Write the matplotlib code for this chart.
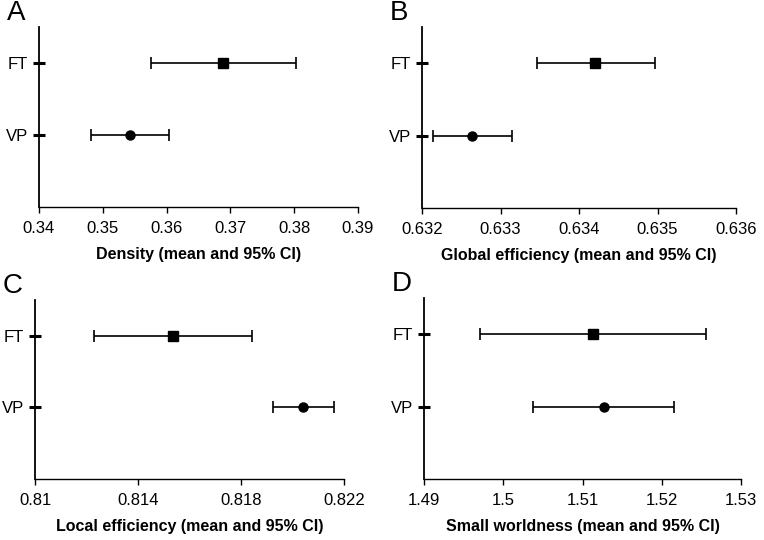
import numpy as np
import matplotlib
matplotlib.use('Agg')
import matplotlib.pyplot as plt
from matplotlib.ticker import FormatStrFormatter

plt.rcParams['font.family'] = ['Liberation Sans', 'DejaVu Sans']

# grupos (de arriba hacia abajo)
grupos = ['FT', 'VP']

# medias e intervalos de confianza 95%
densidad_media = [0.3688, 0.3543]
densidad_inf = [0.3576, 0.3482]
densidad_sup = [0.3803, 0.3603]

global_media = [0.63421, 0.63264]
global_inf = [0.63347, 0.63214]
global_sup = [0.63497, 0.63315]

local_media = [0.81536, 0.82042]
local_inf = [0.81230, 0.81923]
local_sup = [0.81844, 0.82162]

sw_media = [1.5113, 1.5127]
sw_inf = [1.4971, 1.5038]
sw_sup = [1.5256, 1.5216]

paneles = [
    ('A', 'Density (mean and 95% CI)', densidad_media, densidad_inf, densidad_sup,
     [0.34, 0.35, 0.36, 0.37, 0.38, 0.39]),
    ('B', 'Global efficiency (mean and 95% CI)', global_media, global_inf, global_sup,
     [0.632, 0.633, 0.634, 0.635, 0.636]),
    ('C', 'Local efficiency (mean and 95% CI)', local_media, local_inf, local_sup,
     [0.81, 0.814, 0.818, 0.822]),
    ('D', 'Small worldness (mean and 95% CI)', sw_media, sw_inf, sw_sup,
     [1.49, 1.5, 1.51, 1.52, 1.53]),
]

W, H = 764, 540
# posiciones de los ejes en pixeles: izquierda, derecha, arriba, abajo
cajas = [(39, 358, 27, 207), (422, 736, 27, 208), (35, 344, 300, 479), (424, 741, 298, 479)]

fig = plt.figure(figsize=(W / 100, H / 100), dpi=100)

for (letra, etiqueta, media, inf, sup, ticks), (x0, x1, y0, y1) in zip(paneles, cajas):
    ax = fig.add_axes([x0 / W, (H - y1) / H, (x1 - x0) / W, (y1 - y0) / H])
    media = np.array(media)
    err = [media - np.array(inf), np.array(sup) - media]
    ypos = [2, 1]
    marcadores = ['s', 'o']
    for i in range(2):
        ax.errorbar(media[i], ypos[i], xerr=[[err[0][i]], [err[1][i]]], fmt=marcadores[i],
                    color='black', ecolor='black', markersize=7 if i == 0 else 6.5,
                    elinewidth=1.2, capsize=4, capthick=1.2)
    ax.set_xlim(ticks[0], ticks[-1])
    ax.set_ylim(0, 2.5)
    ax.set_xticks(ticks)
    ax.xaxis.set_major_formatter(FormatStrFormatter('%g'))
    ax.set_yticks(ypos)
    ax.set_yticklabels(grupos)
    ax.spines['top'].set_visible(False)
    ax.spines['right'].set_visible(False)
    ax.spines['left'].set_linewidth(1.3)
    ax.spines['bottom'].set_linewidth(1.0)
    ax.tick_params(axis='y', direction='inout', length=8, width=2.2, labelsize=12, pad=4)
    ax.tick_params(axis='x', direction='out', length=4, width=1.0, labelsize=12, pad=6)
    ax.set_xlabel(etiqueta, fontsize=11.5, fontweight='bold', labelpad=8)
    fig.text((x0 - 32) / W, (H - (y0 - 14)) / H, letra, fontsize=20, va='center', ha='left')

fig.savefig('out.png', dpi=100)
